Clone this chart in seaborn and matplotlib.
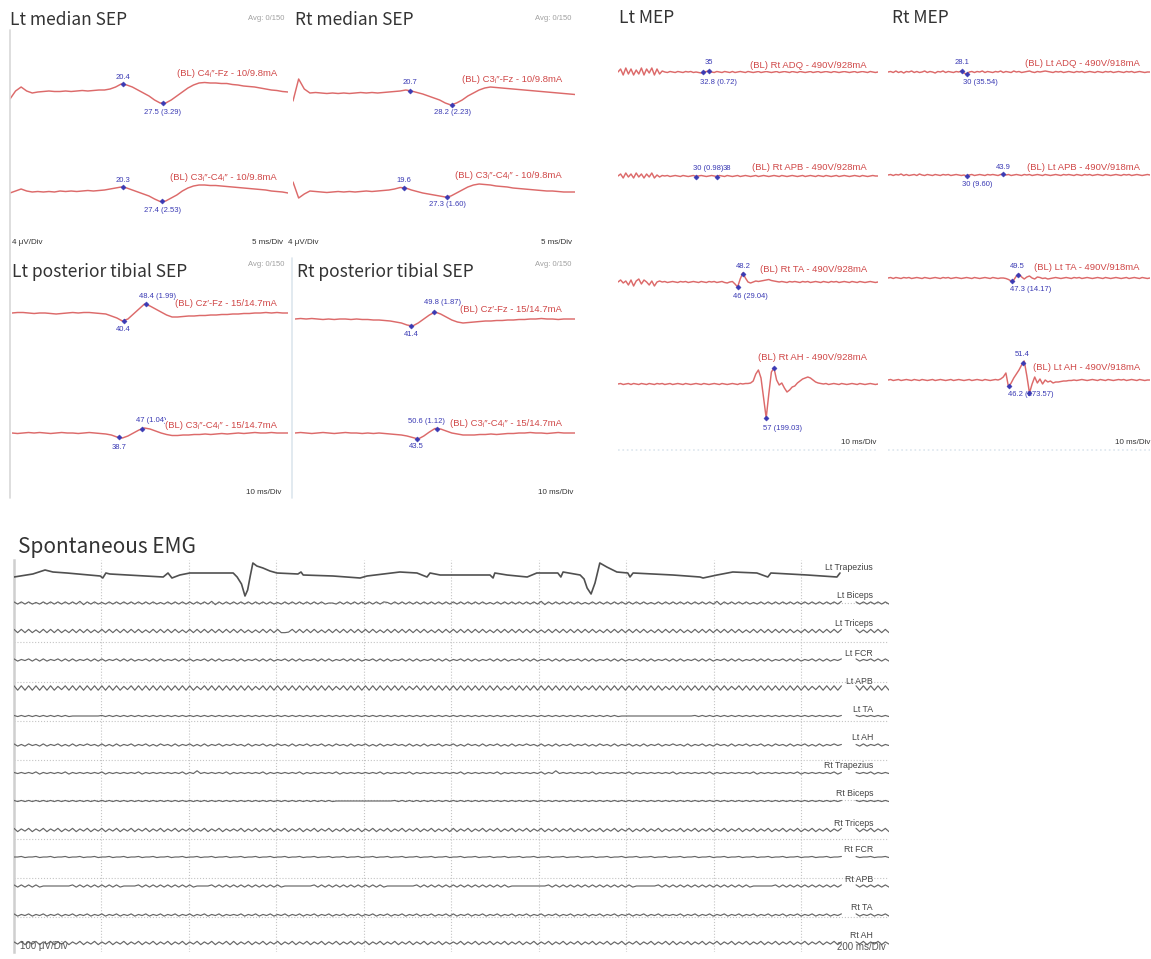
import numpy as np
import pandas as pd
import seaborn as sns
import matplotlib.pyplot as plt
from matplotlib.lines import Line2D

W, H = 1151, 959

# ---------------- SEP traces (amplitude, upward positive) ----------------
# median SEP: one sample per ms, 0-50 ms
lt_med_fz = [-7, 1, 5, 1, -1, 0, 0.5, 1, 0.5, 0.5, 1, 0.5, 1, 1.5, 1, 1.5, 2, 2, 3, 5,
             8, 7, 5, 2, -1, -4, -8, -11, -11, -8, -4, 0, 4, 7, 9, 9.5, 9, 9, 8.5, 8.5,
             7.5, 7, 6, 5.5, 5, 4, 3, 2, 1.5, 0.5, 0]
lt_med_c3c4 = [-1, 1, 3, 1, 0, 0.5, 0, 0.5, 0, 1, 0.5, 1, 0.5, 1, 1.5, 1, 1.5, 2, 3, 4,
               5, 4, 2, 0, -2, -4, -7, -9.5, -9, -6, -3, 1, 4, 6, 7, 7, 6.5, 6.5, 6, 5.5,
               5, 4.5, 4, 3.5, 3, 2.5, 2, 1, 0.5, 0, -1]
rt_med_fz = [-8, 14, 4, 0, 0.5, 0, -0.5, 0, -0.5, 0, -0.5, 0, 0.5, 0, 0.5, 0, 0.5, 1, 1.5, 2,
             3, 2, 0.5, -1, -3, -5, -7, -10, -12, -10, -7, -3, 0, 3, 5, 6, 5.5, 5, 4.5, 4,
             3.5, 3, 2.5, 2, 1.5, 1, 0.5, 0, -0.5, -1, -1.5]
rt_med_c3c4 = [10, -6, -2, 1, 0.5, 0, -0.5, 0, 0.5, 0, 0.5, 0, 0.5, 1, 0.5, 1, 1.5, 2, 3, 4.5,
               4, 2, 0.5, -1, -2, -3, -4, -5, -4, -1, 2, 5, 7, 8, 7.5, 7, 6, 5.5, 5, 4,
               3.5, 3, 2.5, 2, 1.5, 1, 1, 0.5, 0, 0, 0]
# posterior tibial SEP: one sample per 2 ms, 0-100 ms
lt_tib_cz = [0, 0.5, 0.5, 0, -0.5, 0, 0, -0.5, -1, -0.5,
             0, 0.5, 0, 0.5, 0.5, 0, -0.5, -1, -3, -5,
             -8, -6, -1, 4, 9, 7, 4, 1, -2, -4,
             -4, -3.5, -3, -3, -2.5, -2.5, -2, -2, -1.5, -1.5,
             -1, -1, -0.5, -0.5, 0, 0, 0.5, 0, 0.5, 0, 0]
lt_tib_c3c4 = [0, -0.5, 0, 0.5, 0, 0.5, 0, -0.5, 0, 0.5,
               0, 0, -0.5, 0, 0.5, 0, -0.5, -1, -2, -4,
               -5, -3, 0, 3, 5, 4, 2, 0, -1.5, -2.5,
               -2.5, -2, -2, -1.5, -1.5, -1, -1.5, -1, -0.5, -1,
               -0.5, 0, -0.5, 0, 0.5, 0, 0, 0.5, 0, 0, 0]
rt_tib_cz = [0, 0.5, 0, 0.5, 0, -0.5, 0, -0.5, 0, 0,
             -0.5, 0, -0.5, -0.5, -1, -1, -1.5, -2, -3, -4,
             -6, -7, -4, 0, 4, 7, 5, 2, -1, -3,
             -4, -3.5, -3, -2.5, -2, -2, -1.5, -1.5, -1, -1,
             -0.5, -0.5, 0, 0, 0.5, 0, 0, -0.5, 0, 0, 0]
rt_tib_c3c4 = [0, 0.5, 0, -0.5, 0, 0.5, 0, -0.5, 0, 0.5,
               0, 0, -0.5, 0, -0.5, 0, -0.5, -1, -1.5, -2,
               -3, -4.5, -6, -3, 1, 4.5, 4, 2, 0, -1,
               -2, -2, -2, -1.5, -1.5, -1, -1.5, -1, -0.5, -0.5,
               0, 0, 0.5, 0, 0, -0.5, 0, 0.5, 0, 0, 0]

# ---------------- MEP traces: one sample per ms, 0-100 ms ----------------
lt_mep_adq = [0, 3, -3, 4, -2, 3, -3, 2, -2, 4, -3, 3, -1, 4, -3, 3, -2, 1, 0, -0.5,
              0.5, 0, -0.5, 0.5, 0, -0.5, 0.5, 0, 0.5, -0.5, 0, -0.5, -1, 0, 0.5, 1, 0, -0.5, 0.5, 0,
              -0.5, 0.5, 0, -0.5, 0.5, -0.5, 0, 0.5, 0, -0.5, 0.5, 0, -0.5, 0, 0.5, -0.5, 0, 0.5, 0, -0.5,
              0, 0.5, -0.5, 0, 0.5, 0, -0.5, 0.5, 0, -0.5, 0.5, 0, -0.5, 0, 0.5, -0.5, 0, 0.5, -0.5, 0,
              0.5, 0, -0.5, 0.5, 0, -0.5, 0, 0.5, 0, -0.5, 0, 0.5, -0.5, 0, 0.5, 0, -0.5, 0.5, 0, -0.5, 0]
lt_mep_apb = [0, 2, -2, 3, -1, 2, -2, 3, -1, 2, -2, 2, -1, 3, -2, 1, -1, 0.5, 0, 0.5,
              -0.5, 0, 0.5, 0, -0.5, 0.5, 0, -0.5, 0, 0.5, -0.5, 0, 0.5, 0, -0.5, 0, 0.5, 0, -0.5, 0.5,
              0, -0.5, 0.5, 0, -0.5, 0, 0.5, -0.5, 0, 0.5, 0, -0.5, 0, 0.5, -0.5, 0, 0.5, 0, -0.5, 0,
              0.5, 0, -0.5, 0.5, 0, -0.5, 0, 0.5, 0, -0.5, 0, 0.5, -0.5, 0, 0.5, 0, -0.5, 0.5, 0, -0.5,
              0.5, 0, -0.5, 0, 0.5, -0.5, 0, 0.5, 0, -0.5, 0, 0.5, 0, -0.5, 0.5, 0, -0.5, 0, 0.5, 0, 0]
lt_mep_ta = [0, 2, -1, 1, -3, 2, -4, 1, 3, -2, 2, 0, -3, 1, -4, 0, 1, 0, 0.5, -0.5,
             0, 0.5, 0, -0.5, 0.5, 0, 0.5, -0.5, 0, 0.5, 0, -0.5, 0.5, 0, -0.5, 0.5, 0, 0.5, -0.5, 0,
             0.5, -0.5, -1, 0, 0.5, -2, -5, 3, 9, 4, 0, -1, 0, 1, 0.5, 1, 1.5, 2, 2.5, 1.5,
             1, 0.5, 0, 0.5, 0, -0.5, 0.5, 0, 0.5, 0, -0.5, 0.5, 0, 0.5, -0.5, 0, 0.5, 0, -0.5, 0.5,
             0, -0.5, 0.5, 0, 0.5, -0.5, 0, 0.5, 0, -0.5, 0.5, 0, -0.5, 0.5, 0, -0.5, 0, 0.5, 0, -0.5, 0]
lt_mep_ah = [0, 0.5, -0.5, 0, 0.5, -0.5, 0.5, 0, -0.5, 0.5, 0, -0.5, 0.5, 0, -0.5, 0.5, 0, 0.5, -0.5, 0,
             0.5, -0.5, 0, 0.5, 0, -0.5, 0.5, 0, -0.5, 0, 0.5, 0, -0.5, 0.5, 0, -0.5, 0, 0.5, 0, -0.5,
             0.5, 0, -0.5, 0, 0.5, 0, -0.5, 0.5, 0, 0.5, 0.5, 1, 3, 10, 14, 6, -14, -34, -10, 12,
             16, 4, -1, 1, -4, -8, -6, -3, -2, 1, 3, 5, 6, 7, 6, 4, 2, 1, 0.5, 0,
             0.5, -0.5, 0, 0.5, 0, -0.5, 0.5, 0, -0.5, 0, 0.5, 0, -0.5, 0.5, 0, -0.5, 0, 0.5, 0, -0.5, 0]
rt_mep_adq = [0, 0.5, -0.5, 1, -0.5, 0.5, -1, 0.5, 0, 1, -0.5, 0.5, -0.5, 0, 1, -0.5, 0.5, 0, -1, 0.5,
              0, 1, -0.5, 0.5, 0, -0.5, 0.5, 0, 1, -1, -2, 0, 0.5, -0.5, 0.5, 0, 1, -0.5, 0.5, 0,
              -0.5, 0.5, 0, 1, -0.5, 0.5, 0, -0.5, 1, 0, 0.5, -0.5, 0, 0.5, 1, 0, -0.5, 0.5, 0, 0.5,
              1, 0.5, 0, -0.5, 0.5, 0, 0.5, -0.5, 0, 0.5, 0, -0.5, 0.5, 0, 0.5, -0.5, 0, 0.5, 0, -0.5,
              0.5, 0, -0.5, 0.5, 0, 0.5, -0.5, 0, 0.5, 0, -0.5, 0.5, 0, 0.5, -0.5, 0, 0.5, 0, -0.5, 0, 0]
rt_mep_apb = [0, 0.5, -0.5, 0.5, 0, 1, -0.5, 0.5, -0.5, 0, 0.5, -0.5, 1, 0, -0.5, 0.5, 0, -0.5, 0.5, 0,
              -0.5, 0.5, 0, 0.5, -0.5, 0, 0.5, 0, -0.5, 0, -1, 0, 0.5, -0.5, 0, 0.5, 0, -0.5, 0.5, 0,
              0.5, 0, -0.5, 0.5, 1, 0, 0.5, -0.5, 0, 0.5, 0, -0.5, 0.5, 0, 0.5, -0.5, 0, 0.5, 0, -0.5,
              0.5, 0, -0.5, 0, 0.5, 0, -0.5, 0.5, 0, 0.5, 0, -0.5, 0.5, 0, -0.5, 0.5, 0, 0.5, -0.5, 0,
              0.5, 0, -0.5, 0.5, 0, -0.5, 0, 0.5, 0, -0.5, 0.5, 0, 0.5, -0.5, 0, 0.5, 0, -0.5, 0, 0.5, 0]
rt_mep_ta = [0, 0.5, -0.5, 0.5, 0, -0.5, 0.5, 0, 0.5, -0.5, 0, 0.5, 0, -0.5, 0.5, 0, -0.5, 0, 0.5, 0,
             -0.5, 0.5, 0, 0.5, -0.5, 0, 0.5, 0, -0.5, 0, 0.5, 0, -0.5, 0.5, 0, -0.5, 0, 0.5, 0, -0.5,
             0.5, 0, -0.5, 0, 0, -0.5, -1.5, -3, -2, 2, 4, 1, -1, 1, 2, 0, -1, 1, 0.5, -0.5,
             0, -1, -0.5, 0, 0.5, 0, -0.5, 0, 0.5, 0, -0.5, 0.5, 0, 0.5, -0.5, 0, 0.5, 0, -0.5, 0,
             0.5, 0, -0.5, 0.5, 0, -0.5, 0, 0.5, 0, -0.5, 0, 0.5, -0.5, 0, 0.5, 0, -0.5, 0.5, 0, -0.5, 0]
rt_mep_ah = [0, 0.5, -0.5, 0, 0.5, -0.5, 0, 0.5, 0, -0.5, 0.5, 0, -0.5, 0.5, 0, -0.5, 0, 0.5, -0.5, 0,
             0.5, 0, -0.5, 0, 0.5, -0.5, 0, 0.5, 0, -0.5, 0, 0.5, -0.5, 0, 0.5, 0, -0.5, 0.5, 0, -0.5,
             0, 0.5, 0, 1, 3, 7, -7, -3, 2, 6, 10, 15, 19, 4, -13, -4, 3, -3, 1, -4,
             0, -2, -1, -3, -2, -2, -1.5, -1, -1, -0.5, -0.5, 0, -0.5, 0, 0.5, 0, -0.5, 0, 0.5, 0,
             -0.5, 0.5, 0, -0.5, 0.5, 0, -0.5, 0, 0.5, 0, 0.5, -0.5, 0, 0.5, 0, -0.5, 0.5, 0, -0.5, 0, 0]

# peak markers: (latency ms, label)
lt_med_fz_marks = [(20.4, "20.4"), (27.5, "27.5 (3.29)")]
lt_med_c3c4_marks = [(20.3, "20.3"), (27.4, "27.4 (2.53)")]
rt_med_fz_marks = [(20.7, "20.7"), (28.2, "28.2 (2.23)")]
rt_med_c3c4_marks = [(19.6, "19.6"), (27.3, "27.3 (1.60)")]
lt_tib_cz_marks = [(40.4, "40.4"), (48.4, "48.4 (1.99)")]
lt_tib_c3c4_marks = [(38.7, "38.7"), (47.0, "47 (1.04)")]
rt_tib_cz_marks = [(41.4, "41.4"), (49.8, "49.8 (1.87)")]
rt_tib_c3c4_marks = [(43.5, "43.5"), (50.6, "50.6 (1.12)")]
lt_adq_marks = [(32.8, "32.8 (0.72)"), (35.0, "35")]
lt_apb_marks = [(30.0, "30 (0.98)"), (38.0, "38")]
lt_ta_marks = [(46.0, "46 (29.04)"), (48.2, "48.2")]
lt_ah_marks = [(57.0, "57 (199.03)"), (60.0, "")]
rt_adq_marks = [(28.1, "28.1"), (30.0, "30 (35.54)")]
rt_apb_marks = [(30.0, "30 (9.60)"), (43.9, "43.9")]
rt_ta_marks = [(47.3, "47.3 (14.17)"), (49.5, "49.5")]
rt_ah_marks = [(46.2, "46.2 (273.57)"), (51.4, "51.4"), (54.0, "")]

# channel labels
lt_med_names = ["(BL) C4\u1d62\u2033-Fz - 10/9.8mA", "(BL) C3\u1d62\u2033-C4\u1d62\u2033 - 10/9.8mA"]
rt_med_names = ["(BL) C3\u1d62\u2033-Fz - 10/9.8mA", "(BL) C3\u1d62\u2033-C4\u1d62\u2033 - 10/9.8mA"]
tib_names = ["(BL) Cz\u2032-Fz - 15/14.7mA", "(BL) C3\u1d62\u2033-C4\u1d62\u2033 - 15/14.7mA"]
lt_mep_names = ["(BL) Rt ADQ - 490V/928mA", "(BL) Rt APB - 490V/928mA",
                "(BL) Rt TA - 490V/928mA", "(BL) Rt AH - 490V/928mA"]
rt_mep_names = ["(BL) Lt ADQ - 490V/918mA", "(BL) Lt APB - 490V/918mA",
                "(BL) Lt TA - 490V/918mA", "(BL) Lt AH - 490V/918mA"]

# ---------------- Spontaneous EMG (2000 ms sweep) ----------------
emg_names = ["Lt Trapezius", "Lt Biceps", "Lt Triceps", "Lt FCR", "Lt APB", "Lt TA", "Lt AH",
             "Rt Trapezius", "Rt Biceps", "Rt Triceps", "Rt FCR", "Rt APB", "Rt TA", "Rt AH"]
lt_trap_t = [0, 43, 71, 89, 121, 197, 203, 210, 219, 341, 352, 361, 379, 402, 501, 510, 520, 528,
             534, 540, 546, 555, 569, 585, 601, 649, 656, 661, 729, 791, 807, 882, 921, 944, 951,
             974, 1088, 1095, 1099, 1127, 1173, 1195, 1243, 1250, 1255, 1294, 1303, 1310, 1319,
             1328, 1339, 1355, 1378, 1403, 1408, 1415, 1506, 1568, 1575, 1607, 1643, 1698, 1723,
             1730, 1813, 1881, 1888, 1922, 1995]
lt_trap_a = [-2, 1, 5, 3, 2, -1, -3, 2, 1, -2, 2, -3, 0, 2, 2, -2, -9, -21,
             -15, -1, 12, 9, 7, 4, 2, 1, 3, 0, -1, -3, -1, 3, 2, -2, 2,
             0, 0, -3, 2, 0, -2, 2, 2, -2, 3, 0, -4, -13, -19,
             -8, 12, 8, 3, 2, -2, 2, 0, -2, -3, 0, 3, 2, -2,
             2, 0, -2, 2, 0, -2]
# ripple traces, one digit per half cycle of mains hum, 5 = baseline
emg_ripple = {
    "Lt Biceps": "737373637373737373827373637373737373737363737373737373827373"
                 "737373737373637373737373735537373737373737637373737373737373"
                 "737373737363737373737373827373737373637373737373737373637373"
                 "737373737373827373737363737373737373737373737382737373737373",
    "Lt Triceps": "828282728282827282828272828282828282728282828272828282828282"
                  "828272728282822382828282728282828282828272828282828282728282"
                  "828282828272828282828282728282828282828272828282828282728282"
                  "828272828282828282827282828282828272828282828282828272828282",
    "Lt FCR": "736473737364737373647373736473737364737373647373736473737364"
              "737364737373647373736473737364737373647373736473737364737373"
              "647373736473737364737373647373736473737364737373647373736473"
              "737364737373647373736473737364737373647373736473737364737373",
    "Lt APB": "919191919191829191919191919191829191919191919191918291919191"
              "919191829191919191919191919182919191919191919191829191919191"
              "919191919191918291919191919191919191829191919191919191919182"
              "919191919191919182919191919191919191918291919191919191919191",
    "Lt TA": "646464646464646455555555646464646464646464646464646464646464"
             "646464646464646464646464646464646464646464646464646464646464"
             "646464646464646464646464646464646464646464646455555555555555"
             "555555646464646464646464646464646464646464646464646464646464",
    "Lt AH": "736374637364736373647463736373647364736374637364736373647364"
             "746373647363746373647364736374637364736373647463736373647364"
             "736374637364736373647463736373647364736374637364736373647364"
             "746373647363746373647364736374637364736373647463736373647364",
    "Rt Trapezius": "646464736464647364646464736464646473646464646473649464646473"
                    "646464647364646464736464646473646464646473646464736464646464"
                    "647364646464736464646464736494646464647364646464736464646464"
                    "736464646473646464646473646464646473646464647364646464736464",
    "Rt Biceps": "646464646464646464646464646464646464646464646464646464646464"
                 "646464646464646464646464646455555555555555556464646464646464"
                 "646464646464646464646464646464646464646464646464646464646464"
                 "646464646464646464646464646464646464646464646464646464646464",
    "Rt Triceps": "827382738273827382738273827382738273827382738273827382738273"
                  "738273827382738273827382738273827382738273827382738273827382"
                  "827382738273827382738273827382738273827382738273827382738273"
                  "738273827382738273827382738273827382738273827382738273827382",
    "Rt FCR": "556455645564556455645564556455645564556455645564556455645564"
              "556455645564556455645564556455645564556455645564556455645564"
              "556455645564556455645564556455645564556455645564556455645564"
              "556455645564556455645564556455645564556455645564556455645564",
    "Rt APB": "737373735555555573737373737373555573737373737373735555737373"
              "737373737373735555555573737373737373737373555555557373737373"
              "737373737373737355555555557373737373737373737373735555557373"
              "737373737373737373737355555573737373737373737373737373737373",
    "Rt TA": "736473647364736473647364736473647364736473647364736473647364"
             "647364736473647364736473647364736473647364736473647364736473"
             "736473647364736473647364736473647364736473647364736473647364"
             "647364736473647364736473647364736473647364736473647364736473",
    "Rt AH": "738273827382738273827382738273827382738273827382738273827382"
             "827382738273827382738273827382738273827382738273827382738273"
             "738273827382738273827382738273827382738273827382738273827382"
             "827382738273827382738273827382738273827382738273827382738273",
}
EMG_GAP = (1895, 1922)

# ---------------- style ----------------
RED = "#dc6a6a"
RED_TXT = "#d04848"
BLUE = "#3a3ab4"
GRAY = "#666666"
DARK = "#333333"
TITLE_FONT = ["Noto Sans CJK KR", "DejaVu Sans"]
EMG_STEP = 0.55

sns.set_style("white")
plt.rcParams["font.family"] = ["Liberation Sans", "DejaVu Sans"]

fig = plt.figure(figsize=(W / 100, H / 100), dpi=100)


def put(x, y, s, **kw):
    return fig.text(x / W, 1 - y / H, s, **kw)


def px_axes(x0, x1, base, half):
    ax = fig.add_axes([x0 / W, 1 - (base + half) / H, (x1 - x0) / W, 2 * half / H])
    ax.set_axis_off()
    return ax


def draw_trace(amp, step, x0, x1, base, marks, offs, label, lab_xy, half=40):
    amp = np.asarray(amp, dtype=float)
    t = np.arange(len(amp)) * step
    ax = px_axes(x0, x1, base, half)
    sns.lineplot(x=t, y=amp, ax=ax, color=RED, lw=1.05, estimator=None, sort=False)
    ax.set_xlim(t[0], t[-1])
    ax.set_ylim(-half, half)
    lat = np.array([m[0] for m in marks])
    val = np.interp(lat, t, amp)
    sns.scatterplot(x=lat, y=val, ax=ax, marker="D", s=7, color=BLUE,
                    edgecolor=BLUE, linewidth=0.3, zorder=4)
    for (la, txt), v, (dx, dy, ha) in zip(marks, val, offs):
        if txt:
            ax.annotate(txt, (la, v), xytext=(dx * 0.72, dy * 0.72), textcoords="offset points",
                        ha=ha, va="center", fontsize=5.5, color=BLUE, annotation_clip=False)
    put(lab_xy[0], lab_xy[1], label, ha="right", va="center", fontsize=6.8, color=RED_TXT,
        bbox=dict(fc="white", ec="none", pad=0.1))


C, L, R = "center", "left", "right"
traces = [
    (lt_med_fz, 1, 10, 288, 92, lt_med_fz_marks, [(0, 7, C), (0, -9, C)], lt_med_names[0], (277, 73)),
    (lt_med_c3c4, 1, 10, 288, 192, lt_med_c3c4_marks, [(0, 7, C), (0, -9, C)], lt_med_names[1], (277, 177)),
    (rt_med_fz, 1, 293, 575, 93, rt_med_fz_marks, [(0, 8, C), (0, -8, C)], rt_med_names[0], (562, 79)),
    (rt_med_c3c4, 1, 293, 575, 192, rt_med_c3c4_marks, [(0, 7, C), (0, -8, C)], rt_med_names[1], (562, 176)),
    (lt_tib_cz, 2, 12, 288, 313, lt_tib_cz_marks, [(0, -9, C), (-7, 8, L)], tib_names[0], (277, 303)),
    (lt_tib_c3c4, 2, 12, 288, 433, lt_tib_c3c4_marks, [(0, -10, C), (-6, 8, L)], tib_names[1], (277, 425)),
    (rt_tib_cz, 2, 295, 575, 319, rt_tib_cz_marks, [(0, -9, C), (-10, 10, L)], tib_names[0], (562, 310)),
    (rt_tib_c3c4, 2, 295, 575, 433, rt_tib_c3c4_marks, [(0, -8, C), (8, 7, R)], tib_names[1], (562, 424)),
    (lt_mep_adq, 1, 618, 878, 72, lt_adq_marks, [(-3, -10, L), (0, 8, C)], lt_mep_names[0], (867, 66)),
    (lt_mep_apb, 1, 618, 878, 176, lt_apb_marks, [(-3, 8, L), (10, 8, C)], lt_mep_names[1], (867, 168)),
    (lt_mep_ta, 1, 618, 878, 282, lt_ta_marks, [(-5, -9, L), (0, 8, C)], lt_mep_names[2], (867, 270)),
    (lt_mep_ah, 1, 618, 878, 384, lt_ah_marks, [(-3, -10, L), (0, 0, C)], lt_mep_names[3], (867, 358)),
    (rt_mep_adq, 1, 888, 1150, 72, rt_adq_marks, [(0, 9, C), (-4, -9, L)], rt_mep_names[0], (1140, 63)),
    (rt_mep_apb, 1, 888, 1150, 175, rt_apb_marks, [(-5, -8, L), (0, 7, C)], rt_mep_names[1], (1140, 167)),
    (rt_mep_ta, 1, 888, 1150, 278, rt_ta_marks, [(-2, -9, L), (0, 8, C)], rt_mep_names[2], (1140, 268)),
    (rt_mep_ah, 1, 888, 1150, 380, rt_ah_marks, [(-1, -8, L), (0, 9, C), (0, 0, C)], rt_mep_names[3], (1140, 367)),
]
for tr in traces:
    draw_trace(*tr)

# panel titles and scale captions
for x, y, s in [(10, 20, "Lt median SEP"), (295, 20, "Rt median SEP"),
                (12, 272, "Lt posterior tibial SEP"), (297, 272, "Rt posterior tibial SEP"),
                (619, 18, "Lt MEP"), (892, 18, "Rt MEP")]:
    put(x, y, s, ha="left", va="center", fontsize=12.5, color=DARK, family=TITLE_FONT)
put(18, 547, "Spontaneous EMG", ha="left", va="center", fontsize=15, color=DARK, family=TITLE_FONT)

for x, y in [(284, 18), (571, 18), (284, 264), (571, 264)]:
    put(x, y, "Avg: 0/150", ha="right", va="center", fontsize=5.5, color="#a0a0a0")
for x, y, s, ha in [(12, 243, "4 \u03bcV/Div", L), (288, 243, "4 \u03bcV/Div", L),
                    (283, 243, "5 ms/Div", R), (572, 243, "5 ms/Div", R),
                    (281, 492, "10 ms/Div", R), (573, 492, "10 ms/Div", R),
                    (876, 442, "10 ms/Div", R), (1150, 442, "10 ms/Div", R)]:
    put(x, y, s, ha=ha, va="center", fontsize=5.8, color=DARK)

# faint panel borders
for xs, ys, col, ls in [((10, 10), (30, 498), "#d8d8d8", "-"), ((292, 292), (258, 498), "#dde6ee", "-"),
                        ((618, 878), (450, 450), "#dde6ee", ":"), ((888, 1150), (450, 450), "#dde6ee", ":")]:
    fig.add_artist(Line2D([x / W for x in xs], [1 - y / H for y in ys], color=col, lw=1.2, ls=ls))

# EMG frame with dotted division grid
emg_bases = [575, 603, 631, 660, 688, 716, 745, 773, 801, 830, 857, 886, 915, 943]
grid_ax = fig.add_axes([14 / W, 1 - 952 / H, 875 / W, 392 / H])
grid_ax.set_xlim(0, 2000)
grid_ax.set_ylim(952, 560)
grid_ax.set_xticks(np.arange(200, 2000, 200))
grid_ax.set_yticks(603 + 39.3 * np.arange(9))
grid_ax.grid(True, ls=":", color="#c4c4c4", lw=0.8)
grid_ax.tick_params(length=0, labelbottom=False, labelleft=False)
for side in ["top", "right", "bottom"]:
    grid_ax.spines[side].set_visible(False)
grid_ax.spines["left"].set_color("#cfcfcf")
grid_ax.spines["left"].set_linewidth(1.8)


def emg_frame(t, amp):
    t = np.asarray(t, dtype=float)
    amp = np.asarray(amp, dtype=float)
    keep = (t < EMG_GAP[0]) | (t > EMG_GAP[1])
    return pd.DataFrame({"t": t[keep], "amp": amp[keep], "seg": (t[keep] > EMG_GAP[1]).astype(int)})


for name, base in zip(emg_names, emg_bases):
    if name == "Lt Trapezius":
        df = emg_frame(lt_trap_t, lt_trap_a)
        lw, col = 1.2, "#505050"
    else:
        s = emg_ripple[name]
        amp = (np.array([int(c) for c in s]) - 5) * EMG_STEP
        df = emg_frame(np.linspace(0, 2000, len(amp)), amp)
        lw, col = 0.85, GRAY
    ax = px_axes(14, 889, base, 25)
    sns.lineplot(data=df, x="t", y="amp", units="seg", estimator=None, color=col, lw=lw, ax=ax)
    ax.set_xlim(0, 2000)
    ax.set_ylim(-25, 25)
    put(873, base - 7, name, ha="right", va="center", fontsize=6.3, color="#444444")

put(20, 946, "100 \u03bcV/Div", ha="left", va="center", fontsize=7, color="#555555")
put(886, 947, "200 ms/Div", ha="right", va="center", fontsize=7, color="#555555")

fig.savefig("out.png", dpi=100, facecolor="white")
